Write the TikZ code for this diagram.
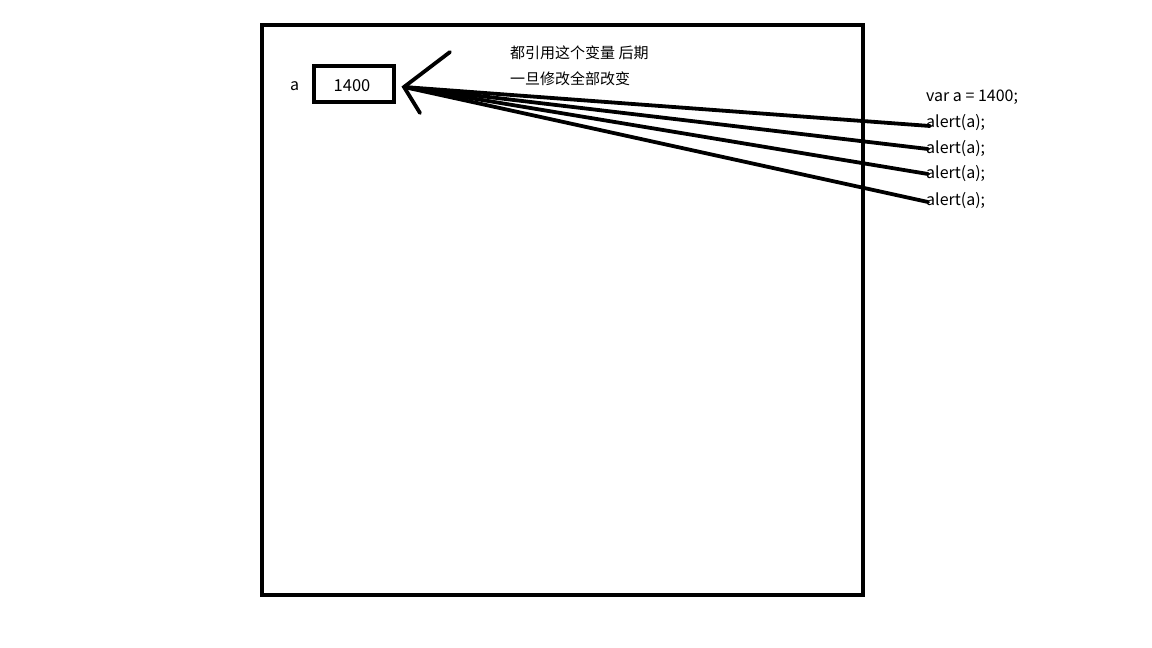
\documentclass[tikz,border=0pt]{standalone}
\usepackage{fontspec}
\setmainfont{Noto Sans CJK SC}
\begin{document}
\begin{tikzpicture}[x=1pt,y=-1pt,
  thick line/.style={line width=4pt},
  ref line/.style={line width=3.8pt, line cap=round},
  lbl/.style={font=\fontsize{15}{17}\selectfont, inner sep=0pt, anchor=west},
  code/.style={font=\fontsize{16}{18}\selectfont, inner sep=0pt, anchor=west}]
\useasboundingbox (0,0) rectangle (1152,648);
\draw[thick line] (262,25) rectangle (863,595);
\node[draw, line width=4.5pt, minimum width=80pt, minimum height=36pt, inner sep=0pt] (box) at (354,84) {};
\node[inner sep=0pt, font=\fontsize{16.5}{18}\selectfont] (num) at (352,86) {1400};
\node[code] (alab) at (290,86) {a};
\node[lbl] (n1) at (510,52.5) {都引用这个变量 后期};
\node[lbl] (n2) at (510,78.5) {一旦修改全部改变};
\node[code] (v) at (926,97) {var a = 1400;};
\node[code] (c1) at (926,123) {alert(a);};
\node[code] (c2) at (926,149) {alert(a);};
\node[code] (c3) at (926,174) {alert(a);};
\node[code] (c4) at (926,201) {alert(a);};
\coordinate (tip) at (404,87);
\coordinate (up) at (450,52);
\coordinate (lo) at (420,113);
\coordinate (e1) at (930,126);
\coordinate (e2) at (928,149);
\coordinate (e3) at (928,174);
\coordinate (e4) at (928,202);
\draw[ref line] (up) -- (tip) -- (lo);
\foreach \e in {e1,e2,e3,e4} \draw[ref line] (tip) -- (\e);
\end{tikzpicture}
\end{document}
